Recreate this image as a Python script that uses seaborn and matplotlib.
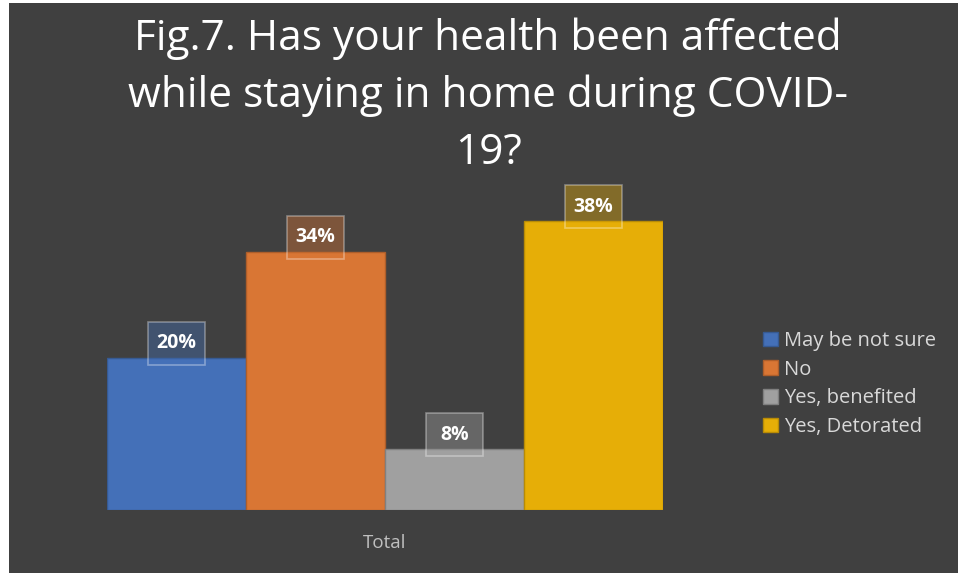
import numpy as np
import pandas as pd
import matplotlib.pyplot as plt
import seaborn as sns
from matplotlib.patches import Rectangle
from matplotlib.colors import to_rgba

# --- Data ---
answers = ["May be not sure", "No", "Yes, benefited", "Yes, Detorated"]
percents = [20, 34, 8, 38]
group = ["Total"] * 4
bar_colors = ["#4470B8", "#D97634", "#A0A0A0", "#E6AE07"]

df = pd.DataFrame({"group": group, "answer": answers, "pct": percents})

BG = "#404040"
sns.set_theme(style="dark")
plt.rcParams["font.family"] = ["Open Sans", "DejaVu Sans"]

W, H = 958, 573
fig = plt.figure(figsize=(W / 100, H / 100), dpi=100)
fig.patch.set_facecolor("white")
# dark chart area with a thin white margin on the left / top
fig.add_artist(Rectangle((9 / W, 0), 1, 1 - 3 / H, transform=fig.transFigure,
                         facecolor=BG, edgecolor="none", zorder=0))

# axes placed where the bars sit in the reference
ax = fig.add_axes([107 / W, (H - 510) / H, (663 - 107) / W, 304 / H])
ax.set_facecolor("none")

sns.barplot(data=df, x="group", y="pct", hue="answer", hue_order=answers,
            palette=bar_colors, width=0.8, saturation=1, ax=ax)

ax.set_xlim(-0.4, 0.4)
ax.set_ylim(0, 40)
ax.set_yticks([])
ax.set_xlabel("")
ax.set_ylabel("")
for s in ax.spines.values():
    s.set_visible(False)
ax.tick_params(axis="x", colors="#BFBFBF", labelsize=13.5, length=0, pad=17)

def darker(col, f=0.8):
    r, g, b, _ = to_rgba(col)
    return (r * f, g * f, b * f)

# darker edges and the boxed labels on top of each bar
for patch, col, v in zip(ax.patches, bar_colors, percents):
    patch.set_edgecolor(darker(col))
    patch.set_linewidth(1)
    xc = patch.get_x() + patch.get_width() / 2
    px, py = ax.transData.transform((xc, v))
    # box: 57 x 43 px, bottom 7 px below the bar top
    fig.add_artist(Rectangle(((px - 28.5) / W, (py - 7) / H), 57 / W, 43 / H,
                             transform=fig.transFigure, fc=(*to_rgba(col)[:3], 0.4),
                             ec=(1, 1, 1, 0.35), lw=1.2, zorder=5))
    fig.text(px / W, (py + 14.5) / H, f"{v}%", ha="center", va="center",
             color="white", fontsize=14, fontweight="bold", zorder=6)

handles, labels = ax.get_legend_handles_labels()
for h, col in zip(handles, bar_colors):
    h.set_edgecolor(darker(col))
    h.set_linewidth(1)
ax.legend(handles, labels, loc="center left", bbox_to_anchor=(755 / W, (H - 384) / H),
          bbox_transform=fig.transFigure, frameon=False, fontsize=14.5,
          labelcolor="#D9D9D9", handlelength=0.75, handleheight=0.75,
          handletextpad=0.3, labelspacing=0.43, borderaxespad=0)

fig.text(488 / W, 1 - 17 / H,
         "Fig.7. Has your health been affected\nwhile staying in home during COVID-\n19?",
         ha="center", va="top", color="white", fontsize=30.5, linespacing=1.46)

fig.savefig("out.png", dpi=100, facecolor=fig.get_facecolor())
